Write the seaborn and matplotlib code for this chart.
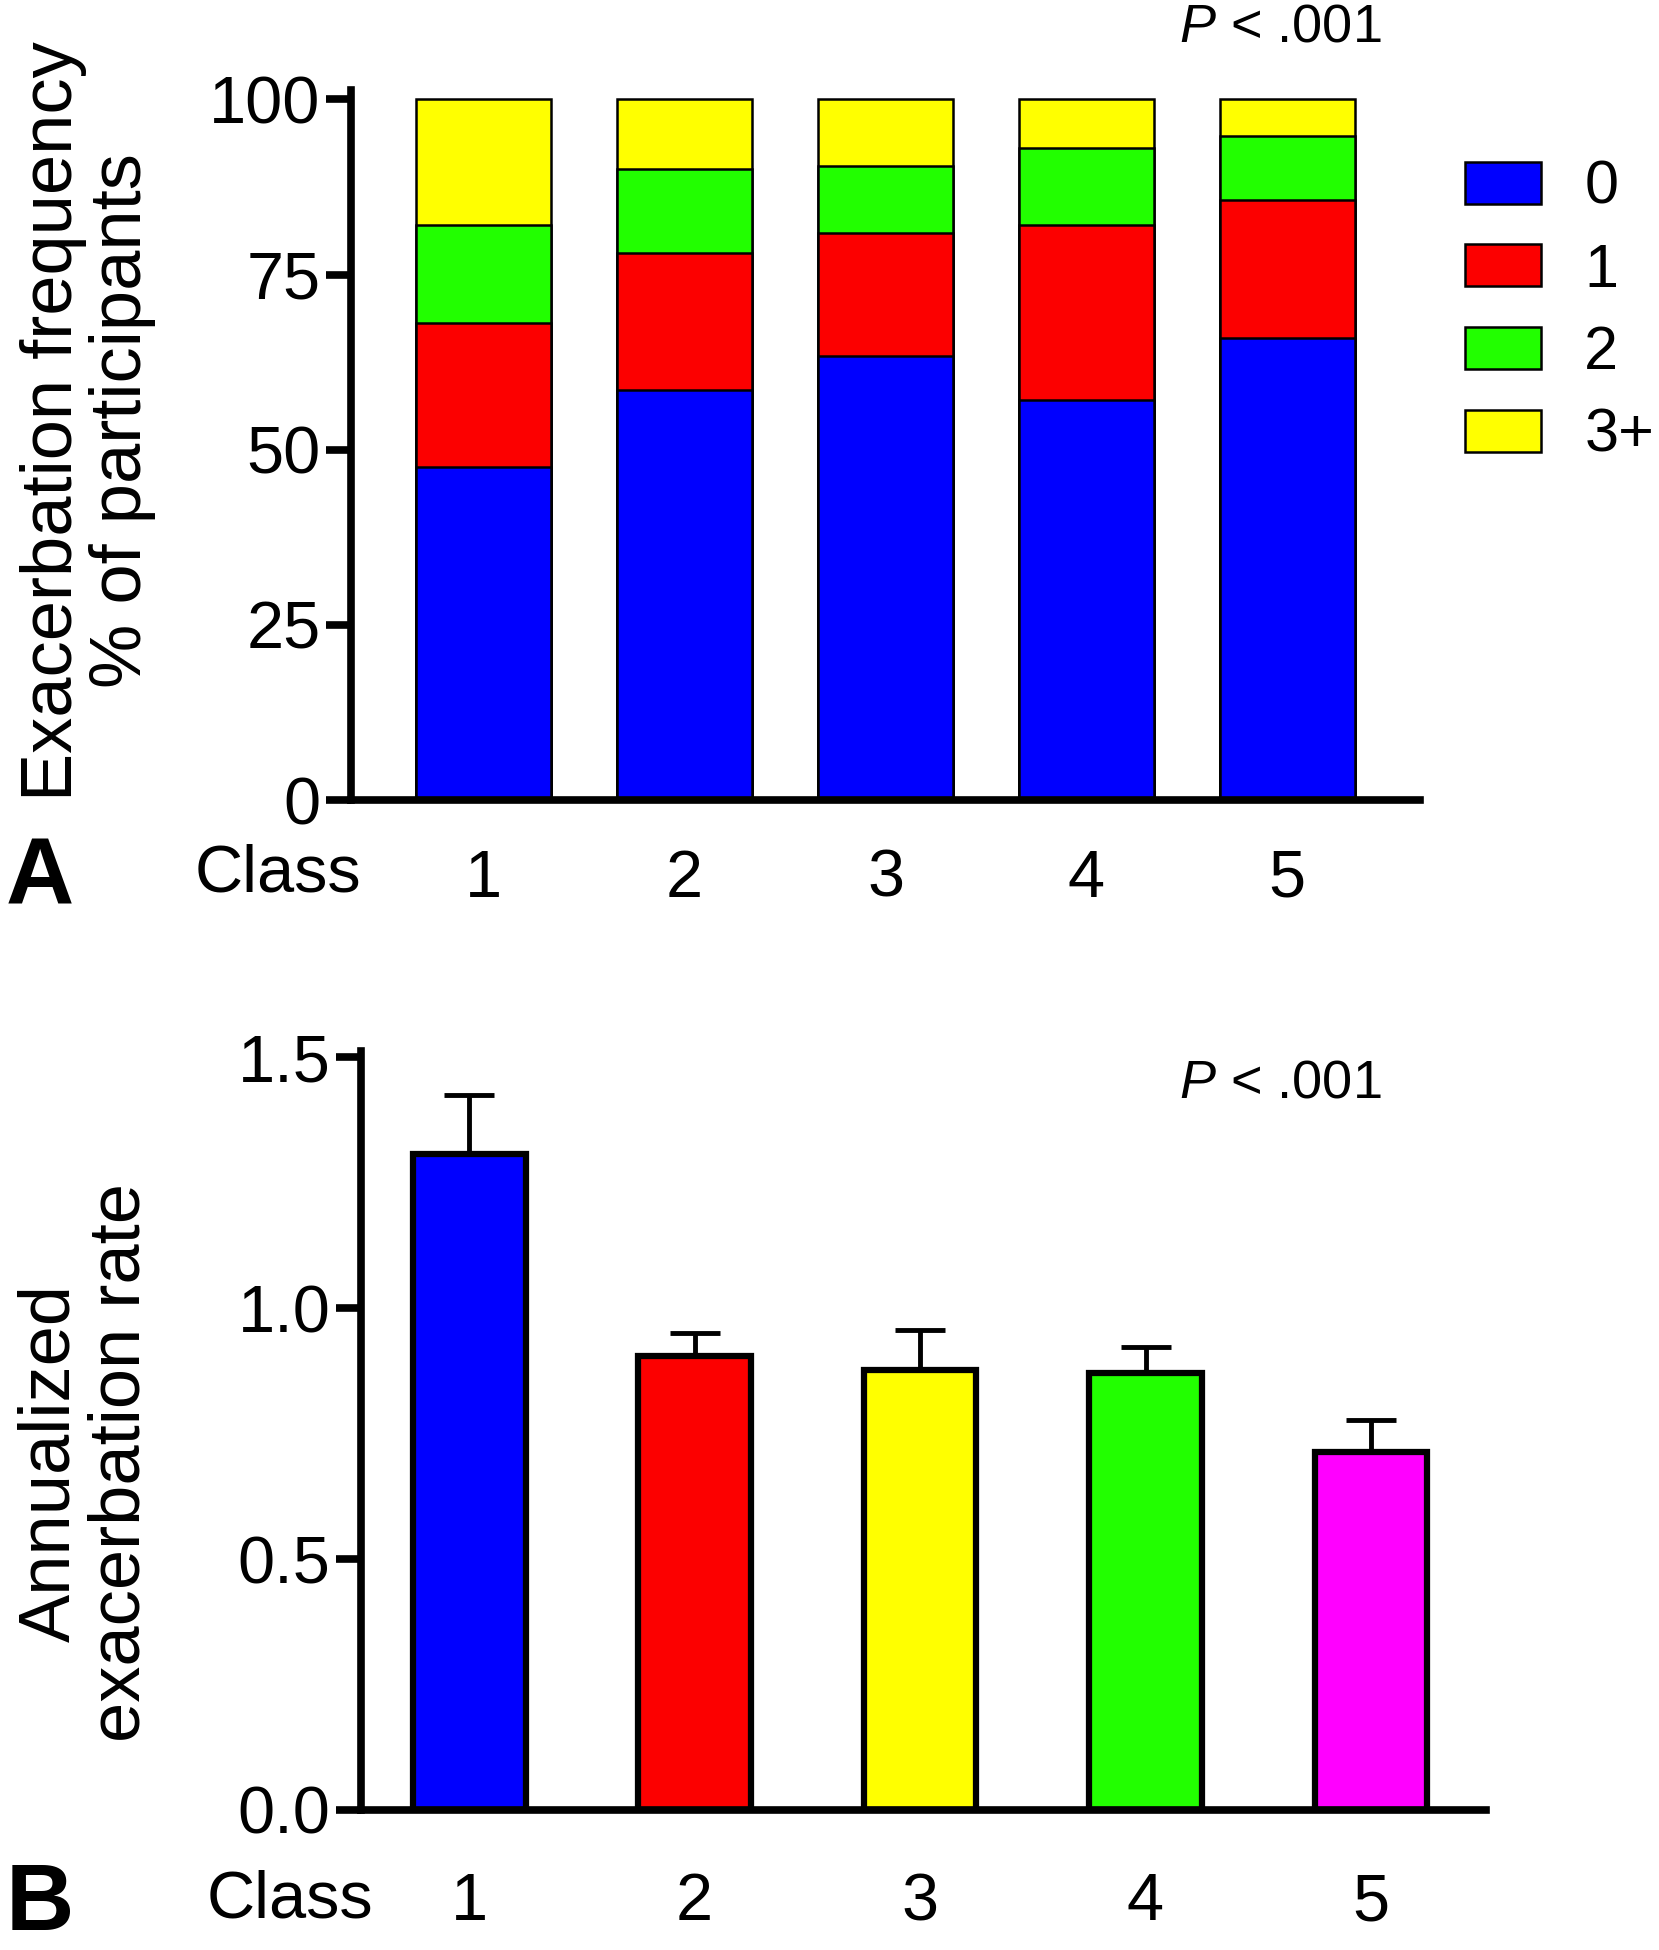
import numpy as np
import pandas as pd
import seaborn as sns
import matplotlib.pyplot as plt
from matplotlib.patches import Patch

# values
classes = ['1', '2', '3', '4', '5']

# panel A: share of participants (%) with 0 / 1 / 2 / 3+ exacerbations
pct_0 = [47.6, 58.5, 63.3, 57.1, 66.0]
pct_1 = [20.5, 19.6, 17.6, 24.9, 19.6]
pct_2 = [13.9, 11.9, 9.6, 11.1, 9.1]
pct_3plus = [18.0, 10.0, 9.5, 6.9, 5.3]
freq_labels = ['0', '1', '2', '3+']
freq_colors = ['#0000ff', '#fc0000', '#22ff00', '#ffff00']

# panel B: annualized exacerbation rate with upper error
rate = [1.307, 0.905, 0.876, 0.870, 0.713]
rate_upper = [1.425, 0.951, 0.957, 0.923, 0.776]
class_colors = ['#0000ff', '#fc0000', '#ffff00', '#22ff00', '#ff00ff']

sns.set_style('ticks')
plt.rcParams['font.family'] = ['Liberation Sans', 'DejaVu Sans']
plt.rcParams['mathtext.fontset'] = 'custom'
plt.rcParams['mathtext.it'] = 'Liberation Sans:italic'
for k in ['text.color', 'axes.labelcolor', 'xtick.color', 'ytick.color', 'axes.edgecolor']:
    plt.rcParams[k] = 'black'

fig = plt.figure(figsize=(16.59, 19.5), dpi=100)
axA = fig.add_axes([0.2116, 0.5897, 0.6443, 0.3644])
axB = fig.add_axes([0.2176, 0.0718, 0.6781, 0.3892])

tick_fs = 48

# ---- panel A: stacked bars, drawn as cumulative totals from the top down
df = pd.DataFrame({'cls': classes, '0': pct_0, '1': pct_1, '2': pct_2, '3+': pct_3plus})
cum = df[freq_labels].cumsum(axis=1)
for lab, col in reversed(list(zip(freq_labels, freq_colors))):
    sns.barplot(x=df['cls'], y=cum[lab], color=col, saturation=1, width=0.67,
                edgecolor='black', linewidth=1.8, errorbar=None, ax=axA)

axA.set_xlim(-0.66, 4.66)
axA.set_ylim(0, 101.4)
axA.set_yticks([0, 25, 50, 75, 100])
axA.set_xlabel('')
axA.set_ylabel('')

handles = [Patch(facecolor=c, edgecolor='black', linewidth=1.8) for c in freq_colors]
fig.legend(handles, freq_labels, loc='upper left', bbox_to_anchor=(1465 / 1659, 1 - 160 / 1950),
           frameon=False, fontsize=44, handlelength=1.25, handleheight=0.68,
           handletextpad=0.7, labelspacing=0.42, borderpad=0, borderaxespad=0)

fig.text(88 / 1659, 1 - 421 / 1950, 'Exacerbation frequency\n% of participants',
         rotation=90, ha='center', va='center', fontsize=52, linespacing=1.05)
fig.text(1280 / 1659, 1 - 28 / 1950, r'$\mathit{P}$ < .001', ha='center', va='center', fontsize=39)
fig.text(361 / 1659, 1 - 874 / 1950, 'Class', ha='right', va='center', fontsize=tick_fs)
fig.text(6 / 1659, 1 - 880 / 1950, 'A', ha='left', va='center', fontsize=68, fontweight='bold')

# ---- panel B: bars with upper error bars
dfb = pd.DataFrame({'cls': classes, 'rate': rate})
sns.barplot(data=dfb, x='cls', y='rate', hue='cls', palette=class_colors, legend=False,
            saturation=1, width=0.5, edgecolor='black', linewidth=4.5, errorbar=None, ax=axB)
err_up = np.array(rate_upper) - np.array(rate)
axB.errorbar(np.arange(len(classes)), rate, yerr=[np.zeros(len(classes)), err_up], fmt='none',
             ecolor='black', elinewidth=3.5, capsize=18, capthick=3.5, zorder=0.5)

axB.set_xlim(-0.48, 4.51)
axB.set_ylim(0, 1.512)
axB.set_yticks([0, 0.5, 1.0, 1.5])
axB.set_yticklabels(['0.0', '0.5', '1.0', '1.5'])
axB.set_xlabel('')
axB.set_ylabel('')

fig.text(86 / 1659, 1 - 1463 / 1950, 'Annualized\nexacerbation rate',
         rotation=90, ha='center', va='center', fontsize=52, linespacing=1.05)
fig.text(1280 / 1659, 1 - 1084 / 1950, r'$\mathit{P}$ < .001', ha='center', va='center', fontsize=39)
fig.text(373 / 1659, 1 - 1900 / 1950, 'Class', ha='right', va='center', fontsize=tick_fs)
fig.text(6 / 1659, 1 - 1906 / 1950, 'B', ha='left', va='center', fontsize=68, fontweight='bold')

for ax, pad in [(axA, 35), (axB, 45)]:
    sns.despine(ax=ax)
    for s in ['left', 'bottom']:
        ax.spines[s].set_linewidth(5.5)
    ax.tick_params(axis='y', length=18, width=5.5, labelsize=tick_fs, pad=4)
    ax.tick_params(axis='x', length=0, labelsize=tick_fs, pad=pad)
    ax.set_xticks(range(len(classes)))
    ax.set_xticklabels(classes)

fig.savefig('out.png', dpi=100)
